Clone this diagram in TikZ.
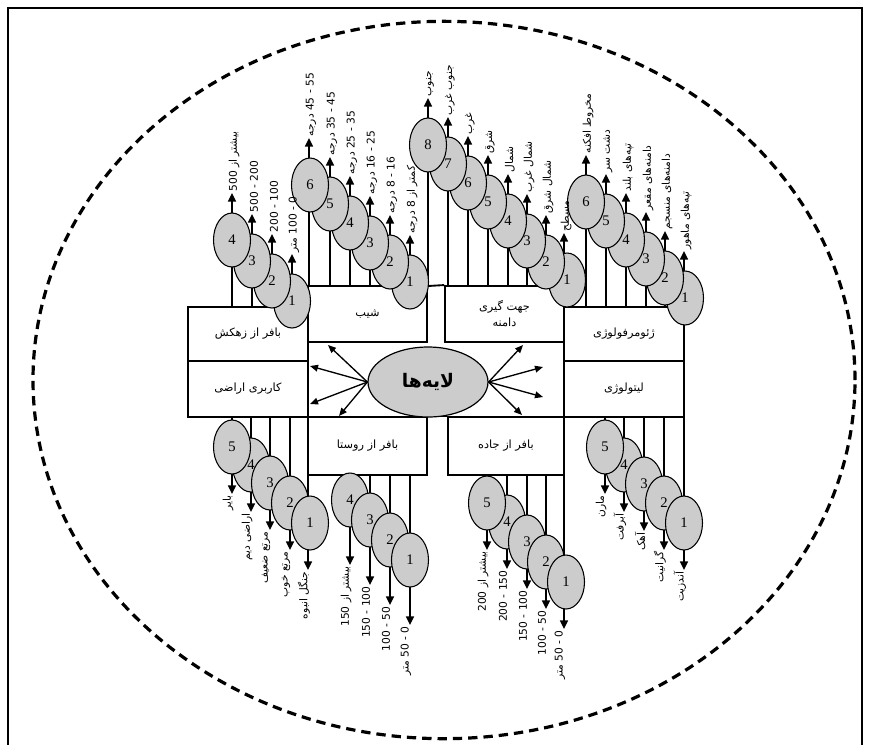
\documentclass[tikz,border=0pt]{standalone}
\usepackage{fontspec}
\usetikzlibrary{arrows.meta,shapes.geometric}
\newfontfamily\fa[Script=Arabic]{DejaVu Sans}
\newfontfamily\nm{Liberation Serif}
\TeXXeTstate=1
\tikzset{
 frameline/.style={line width=1pt},
 outerdash/.style={line width=2.4pt, dash pattern=on 7pt off 4.5pt},
 fbox/.style={draw, line width=1.4pt, fill=white, inner sep=0pt, font=\fa\fontsize{8.5}{12}\selectfont},
 vline/.style={line width=1.2pt, -{Triangle[width=6pt,length=6.5pt]}},
 busline/.style={line width=1.4pt},
 cls/.style={ellipse, draw, line width=0.8pt, fill=gray!40, minimum width=27.75pt, minimum height=40.5pt, inner sep=0pt, font=\nm\fontsize{11}{12}\selectfont},
 toplbl/.style={rotate=90, anchor=west, inner sep=1pt, font=\fa\fontsize{8}{9}\selectfont},
 botlbl/.style={rotate=90, anchor=east, inner sep=1pt, font=\fa\fontsize{8}{9}\selectfont},
 midell/.style={ellipse, draw, line width=0.9pt, fill=gray!40, minimum width=90pt, minimum height=52.5pt, inner sep=0pt},
 carrow/.style={line width=1pt, -{Triangle[width=5pt,length=6pt]}},
}
% #1 prefix, #2 base y, #3 signed tip offset, #4 list n/x/y
\newcommand\glines[4]{%
 \foreach \n/\x/\y in {#4} {
   \coordinate (#1\n b) at (\x,#2);
   \coordinate (#1\n t) at (\x,{\y#3});
   \draw[vline] (#1\n b) -- (#1\n t);
 }}
\newcommand\gells[2]{%
 \foreach \n/\x/\y in {#2} { \node[cls] (#1\n) at (\x,\y) {\n}; }}
\newcommand\gtoplbls[2]{%
 \foreach \n/\lb in {#2} { \node[toplbl] (#1\n l) at ([xshift=1.5pt]#1\n t) {\lb}; }}
\newcommand\gbotlbls[2]{%
 \foreach \n/\lb in {#2} { \node[botlbl] (#1\n l) at ([xshift=-3pt]#1\n t) {\lb}; }}
\begin{document}
\begin{tikzpicture}[x=0.75pt,y=-0.75pt]
\useasboundingbox (0,0) rectangle (869,744);
% frame
\coordinate (fbl) at (8,760);
\coordinate (ftl) at (8,8);
\coordinate (ftr) at (862,8);
\coordinate (fbr) at (862,760);
\draw[frameline] (fbl) -- (ftl) -- (ftr) -- (fbr);
% outer dashed ellipse
\node[ellipse, outerdash, draw, minimum width=616.5pt, minimum height=538pt, inner sep=0pt] (outer) at (444,380) {};
% boxes
\node[fbox, minimum width=90pt, minimum height=40.5pt] (bA) at (248,334) {\beginR بافر از زهکش\endR};
\node[fbox, minimum width=90pt, minimum height=42pt] (bD) at (248,389) {\beginR کاربری اراضی\endR};
\node[fbox, minimum width=89.25pt, minimum height=42pt] (bB) at (367.5,314) {شیب};
\node[fbox, minimum width=89.25pt, minimum height=43.5pt] (bE) at (367.5,446) {\beginR بافر از روستا\endR};
\node[fbox, minimum width=89.25pt, minimum height=42pt, align=center] (bC) at (504.5,314) {\beginR جهت گیری\endR\\\beginR دامنه\endR};
\node[fbox, minimum width=87pt, minimum height=43.5pt] (bF) at (506,446) {\beginR بافر از جاده\endR};
\node[fbox, minimum width=90pt, minimum height=40.5pt] (bG) at (624,334) {ژئومرفولوژی};
\node[fbox, minimum width=90pt, minimum height=42pt] (bH) at (624,389) {لیتولوژی};
\draw[busline] (bE.north east) -- (bF.north west);
% group lines
\glines{A}{307}{-47}{1/292/301,2/272/281,3/252/261,4/232/240}
\glines{B}{286}{-47}{1/410/282,2/390/262,3/370/243,4/350/223,5/330/204,6/309/185}
\glines{C}{286}{-47}{1/564/280,2/546/262,3/527/241,4/508/221,5/488/202,6/468/183,7/448/164,8/428/145}
\glines{G}{307}{-47}{1/684/298,2/665/278,3/646/259,4/626/240,5/606/221,6/586/202}
\glines{D}{417}{+47}{1/308/523,2/290/503,3/270/483,4/251/465,5/232/447}
\glines{E}{475}{+65}{1/410/560,2/390/540,3/370/520,4/350/500}
\glines{F}{475}{+47}{1/564/582,2/546/562,3/527/542,4/507/522,5/487/503}
\glines{H}{417}{+47}{1/684/523,2/664/503,3/644/484,4/624/465,5/605/447}
\draw[busline] (C8b) -- (bC.north west);
% central ellipse and arrows
\node[midell] (mid) at (428,382) {\fa\bfseries\fontsize{14}{15}\selectfont\beginR لایه‌ها\endR};
\coordinate (L1) at (328,345);
\coordinate (L2) at (310,366);
\coordinate (L3) at (310,404);
\coordinate (L4) at (339,416);
\coordinate (R1) at (523,345);
\coordinate (R2) at (543,367);
\coordinate (R3) at (543,397);
\coordinate (R4) at (522,415);
\foreach \k in {1,2,3,4} {
  \draw[carrow] (mid.west) -- (L\k);
  \draw[carrow] (mid.east) -- (R\k);
}
% class ellipses
\gells{A}{1/292/301,2/272/281,3/252/261,4/232/240}
\gells{B}{1/410/282,2/390/262,3/370/243,4/350/223,5/330/204,6/310/185}
\gells{C}{1/567/280,2/546/262,3/527/241,4/508/221,5/488/202,6/468/183,7/448/164,8/428/145}
\gells{G}{1/685/298,2/665/278,3/646/259,4/626/240,5/606/221,6/586/202}
\gells{D}{4/251/465,5/232/447,3/270/483,2/290/503,1/310/523}
\gells{E}{4/350/500,3/370/520,2/390/540,1/410/560}
\gells{F}{4/507/522,5/487/503,3/527/542,2/546/562,1/566/582}
\gells{H}{4/624/465,5/605/447,3/644/484,2/664/503,1/684/523}
% class labels
\gtoplbls{A}{1/{\beginR\beginL 100 - 0\endL{} متر\endR},2/{200 - 100},3/{500 - 200},4/{\beginR بیشتر از 500\endR}}
\gtoplbls{B}{1/{\beginR کمتر از 8 درجه\endR},2/{\beginR\beginL 8 - 16\endL{} درجه\endR},3/{\beginR\beginL 16 - 25\endL{} درجه\endR},4/{\beginR\beginL 25 - 35\endL{} درجه\endR},5/{\beginR\beginL 35 - 45\endL{} درجه\endR},6/{\beginR\beginL 45 - 55\endL{} درجه\endR}}
\gtoplbls{C}{1/{مسطح},2/{\beginR شمال شرق\endR},3/{\beginR شمال غرب\endR},4/{شمال},5/{شرق},6/{غرب},7/{\beginR جنوب غرب\endR},8/{جنوب}}
\gtoplbls{G}{1/{\beginR تپه‌های ماهور\endR},2/{\beginR دامنه‌های منسجم\endR},3/{\beginR دامنه‌های مقعر\endR},4/{\beginR تپه‌های بلند\endR},5/{\beginR دشت سر\endR},6/{\beginR مخروط افکنه\endR}}
\gbotlbls{D}{1/{\beginR جنگل انبوه\endR},2/{\beginR مرتع خوب\endR},3/{\beginR مرتع ضعیف\endR},4/{\beginR اراضی دیم\endR},5/{بایر}}
\gbotlbls{E}{1/{\beginR\beginL 50 - 0\endL{} متر\endR},2/{100 - 50},3/{150 - 100},4/{\beginR بیشتر از 150\endR}}
\gbotlbls{F}{1/{\beginR\beginL 50 - 0\endL{} متر\endR},2/{100 - 50},3/{150 - 100},4/{200 - 150},5/{\beginR بیشتر از 200\endR}}
\gbotlbls{H}{1/{آندزیت},2/{گرانیت},3/{آهک},4/{آبرفت},5/{مارن}}
\end{tikzpicture}
\end{document}
